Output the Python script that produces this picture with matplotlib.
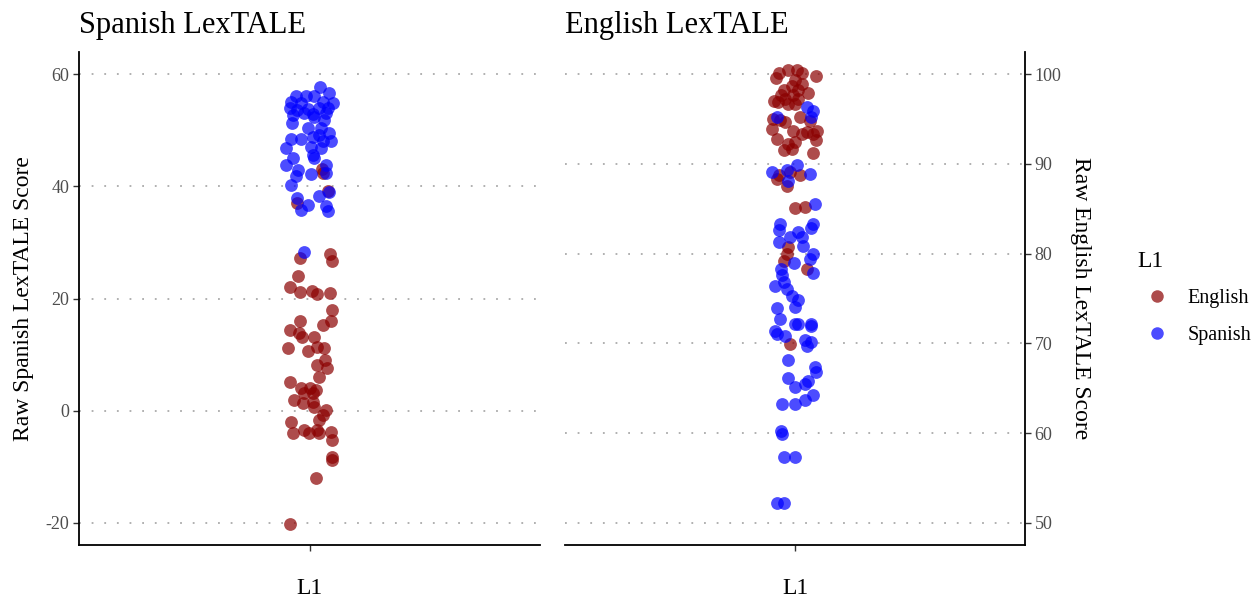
import matplotlib
matplotlib.use("Agg")
import matplotlib.pyplot as plt
import numpy as np
from matplotlib.lines import Line2D

plt.rcParams['font.family'] = ['Liberation Serif', 'DejaVu Serif']

# ---------------- data ----------------
# Spanish LexTALE (left panel)
sp_blue_vals = [57.7, 56.7, 56.1, 56.1, 56.0, 55.1, 54.8, 55.1, 54.8, 53.9, 53.6, 53.7, 53.9, 53.9,
                52.7, 53.1, 52.9, 53.0, 52.4, 51.8, 51.3, 50.3, 50.3, 49.4, 49.1, 48.5, 48.5, 48.8,
                48.0, 48.0, 46.9, 47.0, 46.9, 45.6, 45.0, 45.0, 43.8, 43.8, 42.9, 42.2, 41.8, 42.3,
                40.2, 38.3, 37.9, 39.0, 36.7, 35.8, 36.4, 35.6, 28.3]
sp_blue_jit = [0.028, 0.052, -0.035, -0.009, 0.0125, -0.048, -0.022, 0.034, 0.060, -0.050, -0.033,
               -0.005, 0.026, 0.047, -0.044, -0.014, 0.008, 0.043, 0.0125, 0.039, -0.046, -0.005,
               0.030, 0.052, 0.026, -0.048, -0.022, 0.008, 0.056, 0.034, -0.061, 0.004, 0.030,
               0.008, -0.044, 0.0125, -0.061, 0.043, -0.031, 0.004, -0.035, 0.043, -0.048, 0.026,
               -0.033, 0.052, -0.005, -0.022, 0.043, 0.047, -0.014]
sp_red_vals = [43.0, 42.3, 39.2, 37.0, 27.2, 27.9, 26.7, 24.0, 22.0, 21.2, 21.3, 20.8, 20.9, 18.0,
               16.0, 16.0, 15.3, 14.3, 13.8, 13.2, 13.2, 11.1, 10.7, 11.3, 11.1, 9.0, 8.1, 7.7,
               6.1, 5.2, 4.0, 4.0, 3.7, 3.1, 3.1, 1.9, 1.3, 1.6, 0.7, 0.1, -0.8, -1.6, -2.0,
               -4.0, -3.4, -3.9, -3.4, -4.0, -3.7, -5.3, -8.2, -8.7, -11.9, -20.2]
sp_red_jit = [0.033, 0.034, 0.047, -0.033, -0.024, 0.054, 0.058, -0.029, -0.050, -0.024, 0.006,
              0.020, 0.053, 0.059, 0.056, -0.024, 0.034, -0.050, -0.027, -0.020, 0.0125, -0.055,
              -0.003, 0.020, 0.037, 0.040, 0.020, 0.046, 0.026, -0.050, -0.022, 0.0, 0.017,
              -0.014, 0.008, -0.040, -0.018, 0.008, 0.0125, 0.043, 0.034, 0.026, -0.048, -0.044,
              -0.014, -0.001, 0.020, 0.026, 0.056, 0.058, 0.059, 0.059, 0.017, -0.050]

# English LexTALE (right panel)
en_red_vals = [100.1, 100.5, 100.4, 100.1, 99.8, 99.5, 99.3, 98.9, 98.7, 98.2, 98.2, 97.9, 97.7,
               97.7, 97.0, 97.2, 97.2, 96.7, 96.9, 96.7, 95.0, 94.9, 94.6, 95.2, 94.8, 93.9, 93.7,
               93.3, 93.5, 93.6, 93.3, 92.7, 92.8, 92.2, 92.4, 91.5, 91.6, 91.2, 88.7, 89.1, 88.7,
               88.3, 87.5, 85.1, 85.2, 80.7, 80.0, 79.2, 78.3, 69.9]
en_red_jit = [-0.043, -0.019, 0.004, 0.019, 0.055, -0.050, 0.0, 0.017, -0.009, -0.028, 0.009,
              0.035, -0.036, -0.004, -0.054, -0.026, 0.009, 0.0, -0.045, -0.019, -0.057, -0.039,
              -0.026, 0.013, 0.039, -0.061, -0.004, 0.017, 0.030, 0.057, 0.048, 0.054, -0.048,
              -0.019, 0.0, -0.030, -0.009, 0.048, -0.043, -0.013, 0.013, -0.048, -0.022, 0.0,
              0.026, -0.017, -0.022, -0.030, 0.030, -0.013]
en_blue_vals = [96.3, 95.9, 95.2, 95.2, 89.9, 89.1, 89.3, 88.9, 88.1, 85.5, 83.3, 83.3, 82.6, 82.8,
                82.4, 81.8, 81.8, 81.3, 80.9, 80.0, 79.4, 79.0, 77.8, 78.3, 77.6, 76.8, 76.4, 76.1,
                75.3, 74.8, 74.0, 73.9, 72.7, 72.2, 72.2, 72.2, 71.9, 71.4, 71.1, 70.8, 70.4, 70.2,
                69.7, 68.1, 67.4, 66.8, 66.2, 65.1, 65.5, 65.8, 64.2, 63.7, 63.3, 63.3, 60.3, 59.9,
                57.3, 57.3, 52.2, 52.2]
en_blue_jit = [0.030, 0.048, 0.043, -0.048, 0.004, -0.061, -0.022, 0.039, -0.017, 0.052, -0.039,
               0.048, -0.043, 0.043, 0.009, -0.013, 0.017, -0.043, 0.022, 0.048, 0.039, -0.002,
               0.048, -0.036, -0.035, -0.030, -0.052, -0.022, -0.009, 0.009, 0.0, -0.048, -0.039,
               0.0, 0.009, 0.043, 0.043, -0.052, -0.048, -0.026, 0.026, 0.042, 0.030, -0.017,
               0.052, 0.054, -0.017, 0.0, 0.026, 0.035, 0.048, 0.026, -0.033, 0.0, -0.036, -0.035,
               -0.028, 0.0, -0.048, -0.028]

left_ticks = [-20, 0, 20, 40, 60]
right_ticks = [50, 60, 70, 80, 90, 100]
legend_labels = ['English', 'Spanish']
RED = '#8B0000'
BLUE = '#0000FF'

# ---------------- figure ----------------
W, H = 1259, 603
fig = plt.figure(figsize=(W / 100, H / 100), dpi=100)

def frac(x0, y0, x1, y1):
    return [x0 / W, 1 - y1 / H, (x1 - x0) / W, (y1 - y0) / H]

axL = fig.add_axes(frac(79, 52, 540, 545))
axR = fig.add_axes(frac(565, 52, 1025, 545))

ms = 85
alpha = 0.7
tick_col = '#4d4d4d'

def style(ax, side):
    for s in ['top', 'right', 'left', 'bottom']:
        ax.spines[s].set_visible(False)
    ax.spines[side].set_visible(True)
    ax.spines['bottom'].set_visible(True)
    for s in [side, 'bottom']:
        ax.spines[s].set_linewidth(1.3)
        ax.spines[s].set_color('black')
    ax.set_xlim(0.4, 1.6)
    ax.set_xticks([1])
    ax.set_xticklabels([''])
    ax.set_xlabel('L1', fontsize=17, color='black', labelpad=17)
    ax.tick_params(axis='both', length=4, width=1.0, color='#333333',
                   labelsize=13, labelcolor=tick_col, pad=3)
    ax.grid(axis='y', linestyle=(0, (1, 6)), color='#aaaaaa', linewidth=1.3)
    ax.set_axisbelow(True)
    ax.set_facecolor('white')

# left panel
style(axL, 'left')
axL.scatter(1 + np.array(sp_red_jit), sp_red_vals, s=ms, color=RED, alpha=alpha, linewidths=0)
axL.scatter(1 + np.array(sp_blue_jit), sp_blue_vals, s=ms, color=BLUE, alpha=alpha, linewidths=0)
axL.set_ylim(-23.92, 63.92)
axL.set_yticks(left_ticks)
axL.set_yticklabels([str(t) for t in left_ticks])
axL.set_ylabel('Raw Spanish LexTALE Score', fontsize=17, labelpad=8)
axL.set_title('Spanish LexTALE', loc='left', fontsize=22, pad=14)

# right panel
style(axR, 'right')
axR.yaxis.tick_right()
axR.yaxis.set_label_position('right')
axR.scatter(1 + np.array(en_red_jit), en_red_vals, s=ms, color=RED, alpha=alpha, linewidths=0)
axR.scatter(1 + np.array(en_blue_jit), en_blue_vals, s=ms, color=BLUE, alpha=alpha, linewidths=0)
axR.set_ylim(47.55, 102.45)
axR.set_yticks(right_ticks)
axR.set_yticklabels([str(t) for t in right_ticks])
axR.set_ylabel('Raw English LexTALE Score', fontsize=17, rotation=270, labelpad=21)
axR.set_title('English LexTALE', loc='left', fontsize=22, pad=14)

# legend
handles = [Line2D([], [], marker='o', linestyle='', markersize=9, color=RED, alpha=alpha,
                  markeredgewidth=0),
           Line2D([], [], marker='o', linestyle='', markersize=9, color=BLUE, alpha=alpha,
                  markeredgewidth=0)]
leg = fig.legend(handles, legend_labels, title='L1', loc='center left',
                 bbox_to_anchor=(1119 / W, 1 - 298 / H), frameon=False, fontsize=14.5,
                 title_fontsize=17, handletextpad=0.5, labelspacing=0.85)
leg._legend_box.align = 'left'

fig.savefig('out.png', dpi=100, facecolor='white')
